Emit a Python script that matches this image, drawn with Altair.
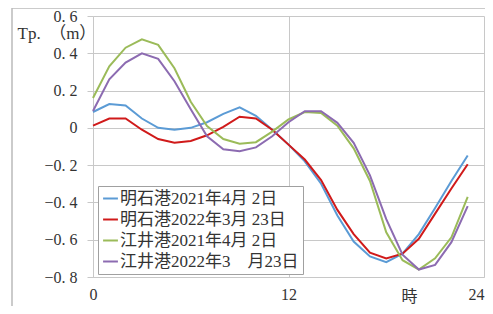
import altair as alt
import pandas as pd

hours = list(range(24))
series_names = ["明石港2021年4月 2日", "明石港2022年3月 23日", "江井港2021年4月 2日", "江井港2022年3　月23日"]
colors = ["#5B9BD5", "#D01A1A", "#9BBB59", "#8C6BB1"]

akashi_2021 = [0.085, 0.128, 0.12, 0.05, 0.0, -0.01, 0.0, 0.03, 0.075, 0.11, 0.065, -0.01,
               -0.09, -0.18, -0.30, -0.47, -0.61, -0.69, -0.72, -0.675, -0.57, -0.43, -0.285, -0.148]
akashi_2022 = [0.012, 0.05, 0.05, -0.01, -0.06, -0.08, -0.07, -0.04, 0.005, 0.06, 0.05, -0.01,
               -0.09, -0.17, -0.28, -0.44, -0.57, -0.67, -0.70, -0.675, -0.595, -0.46, -0.325, -0.195]
eii_2021 = [0.16, 0.33, 0.43, 0.475, 0.445, 0.32, 0.14, 0.01, -0.06, -0.085, -0.077, -0.02,
            0.045, 0.085, 0.08, 0.012, -0.11, -0.285, -0.56, -0.71, -0.76, -0.70, -0.587, -0.37]
eii_2022 = [0.09, 0.26, 0.35, 0.40, 0.37, 0.25, 0.10, -0.045, -0.115, -0.125, -0.105, -0.045,
            0.03, 0.089, 0.089, 0.027, -0.08, -0.255, -0.49, -0.68, -0.76, -0.735, -0.613, -0.42]

y_ticks = [-0.8, -0.6, -0.4, -0.2, 0.0, 0.2, 0.4, 0.6]
x_ticks = [0, 12, 24]

rows = []
for name, vals in zip(series_names, [akashi_2021, akashi_2022, eii_2021, eii_2022]):
    for h, v in zip(hours, vals):
        rows.append({"hour": h, "tp": v, "series": name})
df = pd.DataFrame(rows)

FONT = "Liberation Serif, Noto Sans CJK JP"
GRID = "#C8C8C8"

lines = alt.Chart(df).mark_line(strokeWidth=2).encode(
    x=alt.X("hour:Q",
            scale=alt.Scale(domain=[0, 24], nice=False),
            axis=alt.Axis(values=x_ticks, title="時", grid=True, gridColor=GRID,
                          domainColor=GRID, ticks=False, labelPadding=9,
                          labelFontSize=16, labelFont=FONT, labelColor="#333333",
                          labelFlush=False,
                          labelAlign=alt.ExprRef(expr="datum.value == 24 ? 'right' : 'center'"),
                          titleFont=FONT, titleFontSize=16, titleFontWeight="normal",
                          titleColor="#333333", titleX=316, titleY=19,
                          titleBaseline="middle", titleAlign="center")),
    y=alt.Y("tp:Q",
            scale=alt.Scale(domain=[-0.8, 0.6], nice=False, zero=False),
            axis=alt.Axis(values=y_ticks,
                          labelExpr="datum.value == 0 ? '0' : replace(format(datum.value, '.1f'), '.', '. ')",
                          title="Tp.\u2002（m）", titleAngle=0, titleX=-76, titleY=17,
                          titleAlign="left", titleBaseline="middle",
                          titleFont=FONT, titleFontSize=17, titleFontWeight="normal",
                          titleColor="#333333",
                          grid=True, gridColor=GRID, domainColor=GRID,
                          tickColor=GRID, tickSize=6, labelPadding=10,
                          labelFontSize=16, labelFont=FONT, labelColor="#333333")),
    color=alt.Color("series:N",
                    scale=alt.Scale(domain=series_names, range=colors),
                    legend=alt.Legend(title=None, orient="none", legendX=5, legendY=170,
                                      strokeColor="#A0A0A0", fillColor="white",
                                      padding=4, symbolType="stroke", symbolStrokeWidth=2,
                                      symbolSize=220, labelFont=FONT, labelFontSize=17,
                                      labelColor="#333333", labelOffset=1, rowPadding=3,
                                      labelLimit=400)),
    order=alt.Order("hour:Q"),
)

frame = alt.Chart(pd.DataFrame({"a": [0]})).mark_rect(
    fill="transparent", stroke="#BBBBBB", strokeWidth=1.5
).encode(x=alt.value(-81), x2=alt.value(420), y=alt.value(-8), y2=alt.value(330))

chart = alt.layer(frame, lines).properties(
    width=391, height=261,
    autosize=alt.AutoSizeParams(type="none"),
    padding={"left": 85, "top": 8, "right": 1, "bottom": 29},
).configure_view(strokeWidth=0)

chart.save("out.html", embed_options={"renderer": "svg", "actions": False})
